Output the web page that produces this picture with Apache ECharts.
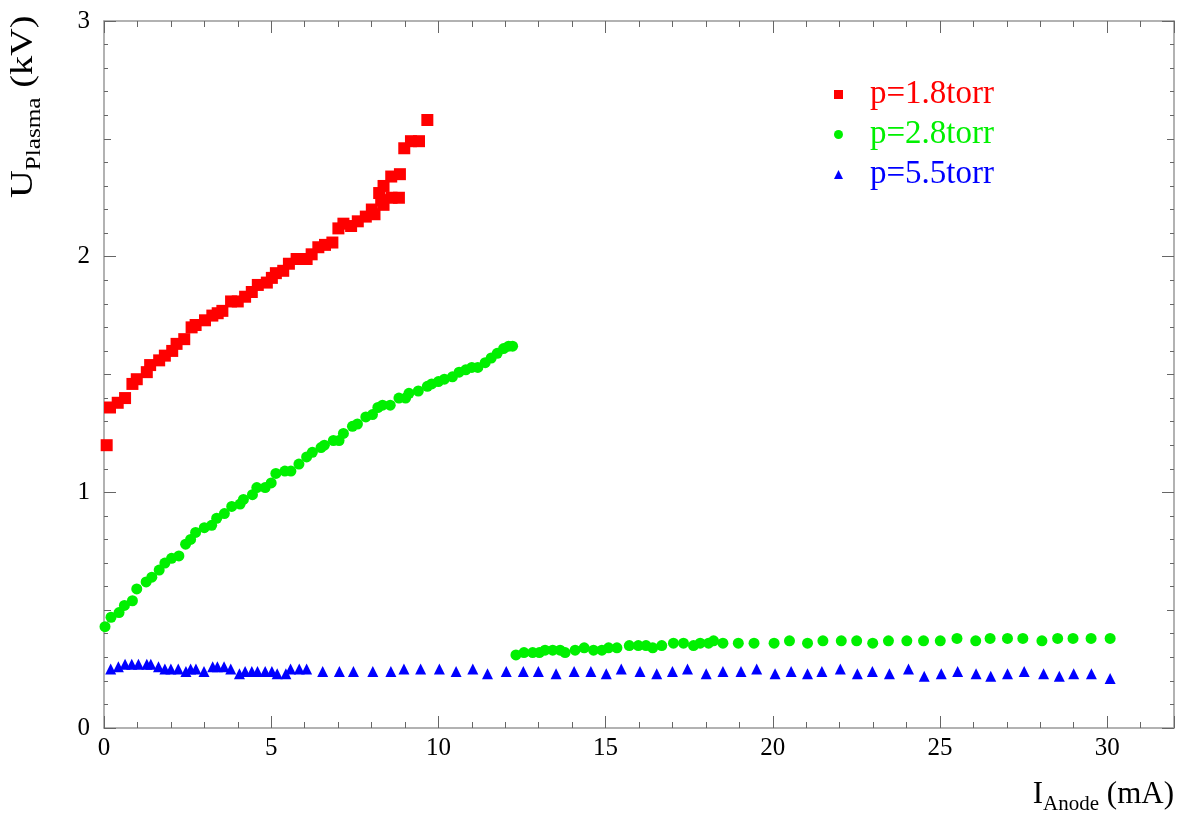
<!DOCTYPE html>
<html>
<head>
<meta charset="utf-8">
<script src="https://cdn.jsdelivr.net/npm/echarts@6/dist/echarts.min.js"></script>
<style>
html,body{margin:0;padding:0;background:#fff;}
#chart{width:1180px;height:816px;}
</style>
</head>
<body>
<div id="chart"></div>
<script>
// p = 1.8 torr (red squares)
const redX = [0.08,0.18,0.41,0.63,0.85,0.98,1.28,1.38,1.65,1.82,2.04,2.17,2.40,2.62,2.74,3.02,3.24,3.40,3.54,3.80,4.00,4.22,4.42,4.60,4.87,5.02,5.14,5.36,5.53,5.76,6.06,6.21,6.41,6.61,6.83,7.01,7.16,7.39,7.59,7.83,8.01,8.09,8.23,8.29,8.36,8.36,8.59,8.60,8.82,8.85,8.98,9.18,9.42,9.67];
const redY = [1.20,1.36,1.38,1.40,1.46,1.48,1.51,1.54,1.56,1.58,1.60,1.63,1.65,1.70,1.71,1.73,1.75,1.76,1.77,1.81,1.81,1.83,1.85,1.88,1.89,1.91,1.93,1.94,1.97,1.99,1.99,2.01,2.04,2.05,2.06,2.12,2.14,2.13,2.15,2.17,2.20,2.18,2.27,2.24,2.22,2.30,2.34,2.25,2.25,2.35,2.46,2.49,2.49,2.58];
// p = 2.8 torr (green circles)
const greenX = [0.03,0.21,0.45,0.61,0.85,0.98,1.26,1.43,1.65,1.82,2.02,2.24,2.44,2.59,2.74,3.00,3.22,3.37,3.60,3.82,4.07,4.17,4.44,4.57,4.82,5.00,5.14,5.41,5.59,5.83,6.06,6.23,6.49,6.59,6.86,7.03,7.16,7.43,7.58,7.83,8.03,8.19,8.33,8.56,8.82,9.02,9.12,9.40,9.67,9.80,10.00,10.18,10.42,10.62,10.82,11.00,11.18,11.40,11.58,11.76,11.95,12.10,12.22,
  12.32,12.56,12.82,13.02,13.19,13.42,13.64,13.79,14.09,14.36,14.64,14.89,15.09,15.34,15.71,15.98,16.21,16.41,16.68,17.03,17.33,17.63,17.83,18.08,18.23,18.51,18.97,19.44,20.04,20.50,21.04,21.50,22.05,22.51,22.99,23.46,24.01,24.51,25.01,25.51,26.07,26.50,27.02,27.48,28.05,28.52,28.98,29.52,30.09];
const greenY = [0.43,0.47,0.49,0.52,0.54,0.59,0.62,0.64,0.67,0.70,0.72,0.73,0.78,0.80,0.83,0.85,0.86,0.89,0.91,0.94,0.95,0.97,0.99,1.02,1.02,1.04,1.08,1.09,1.09,1.12,1.15,1.17,1.19,1.20,1.22,1.22,1.25,1.28,1.29,1.32,1.33,1.36,1.37,1.37,1.40,1.40,1.42,1.43,1.45,1.46,1.47,1.48,1.49,1.51,1.52,1.53,1.53,1.55,1.57,1.59,1.61,1.62,1.62,
  0.31,0.32,0.32,0.32,0.33,0.33,0.33,0.32,0.33,0.34,0.33,0.33,0.34,0.34,0.35,0.35,0.35,0.34,0.35,0.36,0.36,0.35,0.36,0.36,0.37,0.36,0.36,0.36,0.36,0.37,0.36,0.37,0.37,0.37,0.36,0.37,0.37,0.37,0.37,0.38,0.37,0.38,0.38,0.38,0.37,0.38,0.38,0.38,0.38];
// p = 5.5 torr (blue triangles)
const blueX = [0.20,0.43,0.63,0.83,1.03,1.28,1.40,1.63,1.82,2.00,2.22,2.45,2.59,2.75,2.99,3.25,3.39,3.59,3.79,4.05,4.22,4.42,4.59,4.82,5.02,5.18,5.44,5.58,5.84,6.06,6.54,7.04,7.46,8.04,8.58,8.97,9.47,10.03,10.53,11.03,11.47,12.03,12.54,12.99,13.52,14.06,14.56,15.02,15.47,16.03,16.53,17.00,17.45,18.01,18.51,19.05,19.52,20.07,20.55,21.04,21.47,22.02,22.53,22.98,23.49,24.06,24.53,25.04,25.53,26.08,26.52,27.02,27.52,28.10,28.57,29.00,29.53,30.09];
const blueY = [0.25,0.26,0.27,0.27,0.27,0.27,0.27,0.26,0.25,0.25,0.25,0.24,0.25,0.25,0.24,0.26,0.26,0.26,0.25,0.23,0.24,0.24,0.24,0.24,0.24,0.23,0.23,0.25,0.25,0.25,0.24,0.24,0.24,0.24,0.24,0.25,0.25,0.25,0.24,0.25,0.23,0.24,0.24,0.24,0.23,0.24,0.24,0.23,0.25,0.24,0.23,0.24,0.25,0.23,0.24,0.24,0.25,0.23,0.24,0.23,0.24,0.25,0.23,0.24,0.23,0.25,0.22,0.23,0.24,0.23,0.22,0.23,0.24,0.23,0.22,0.23,0.23,0.21];

const legendNames = ['p=1.8torr','p=2.8torr','p=5.5torr'];
const seriesColors = ['#ff0000','#00f000','#0000ff'];
const xTickStep = 5, yTickStep = 1;

const zip = (xs, ys) => xs.map((x, i) => [x, ys[i]]);
const serif = '"Liberation Serif","DejaVu Serif",serif';
const frameColor = '#999';
const tickColor = '#666';

function xAx(pos, interval, len, labels, line) {
  return {
    type: 'value', position: pos, min: 0, max: 32, interval: interval,
    axisLine: {show: line, onZero: false, lineStyle: {color: frameColor, width: 1.5}},
    axisTick: {show: true, inside: true, length: len, lineStyle: {color: tickColor, width: 1}},
    splitLine: {show: false},
    axisLabel: labels ? {show: true, fontFamily: serif, fontSize: 25, color: '#000', margin: 8, showMaxLabel: false,
      formatter: v => (v % xTickStep === 0 ? String(v) : '')} : {show: false}
  };
}
function yAx(pos, interval, len, labels, line, minor) {
  return {
    type: 'value', position: pos, min: 0, max: 3, interval: interval,
    axisLine: {show: line, onZero: false, lineStyle: {color: frameColor, width: 1.5}},
    axisTick: {show: true, inside: true, length: len, lineStyle: {color: tickColor, width: 1}},
    minorTick: minor ? {show: true, splitNumber: 5, length: 4, lineStyle: {color: tickColor, width: 1}} : {show: false},
    splitLine: {show: false},
    axisLabel: labels ? {show: true, fontFamily: serif, fontSize: 25, color: '#000', margin: 14,
      formatter: v => (Math.abs(v - Math.round(v / yTickStep) * yTickStep) < 1e-6 ? String(Math.round(v)) : '')} : {show: false}
  };
}

const chart = echarts.init(document.getElementById('chart'), null, {renderer: 'canvas'});
chart.setOption({
  backgroundColor: '#fff',
  animation: false,
  grid: {left: 104, right: 6, top: 21, bottom: 88, containLabel: false},
  xAxis: [
    xAx('bottom', 1, 6, true, true),
    xAx('bottom', 5, 12, false, false),
    xAx('top', 1, 6, false, true),
    xAx('top', 5, 12, false, false)
  ],
  yAxis: [
    yAx('left', 0.5, 7, true, true, true),
    yAx('left', 1, 12, false, false, false),
    yAx('right', 0.5, 7, false, true, true),
    yAx('right', 1, 12, false, false, false)
  ],
  legend: {
    orient: 'vertical', left: 829, top: 73, itemGap: 7,
    itemWidth: 9, itemHeight: 9,
    textStyle: {fontFamily: serif, fontSize: 33, lineHeight: 31, padding: [0, 0, 0, 22]},
    data: [
      {name: legendNames[0], icon: 'rect', textStyle: {color: seriesColors[0]}},
      {name: legendNames[1], icon: 'circle', textStyle: {color: seriesColors[1]}},
      {name: legendNames[2], icon: 'triangle', textStyle: {color: seriesColors[2]}}
    ]
  },
  series: [
    {name: legendNames[0], type: 'scatter', symbol: 'rect', symbolSize: 12, data: zip(redX, redY),
     itemStyle: {color: seriesColors[0], opacity: 1}},
    {name: legendNames[1], type: 'scatter', symbol: 'circle', symbolSize: 11, data: zip(greenX, greenY),
     itemStyle: {color: seriesColors[1], opacity: 1}},
    {name: legendNames[2], type: 'scatter', symbol: 'triangle', symbolSize: 11, data: zip(blueX, blueY),
     itemStyle: {color: seriesColors[2], opacity: 1}}
  ],
  graphic: [
    {
      type: 'text', right: 6, top: 779,
      style: {
        text: '{m|I}{s|Anode}{m| (mA)}',
        align: 'right',
        rich: {
          m: {fontFamily: serif, fontSize: 31, lineHeight: 30, verticalAlign: 'top', fill: '#000', color: '#000'},
          s: {fontFamily: serif, fontSize: 21, lineHeight: 20, verticalAlign: 'top', padding: [15, 0, 0, 0], fill: '#000', color: '#000'}
        }
      }
    },
    {
      type: 'text', x: 8, y: 198, rotation: Math.PI / 2, scaleX: 1.2, scaleY: 1,
      style: {
        text: '{m|U}{s|Plasma}{m| (kV)}',
        align: 'left', verticalAlign: 'top',
        rich: {
          m: {fontFamily: serif, fontSize: 32, lineHeight: 32, verticalAlign: 'top', fill: '#000', color: '#000'},
          s: {fontFamily: serif, fontSize: 21, lineHeight: 22, verticalAlign: 'top', padding: [16, 0, 0, 0], fill: '#000', color: '#000'}
        }
      }
    }
  ]
});
</script>
</body>
</html>
